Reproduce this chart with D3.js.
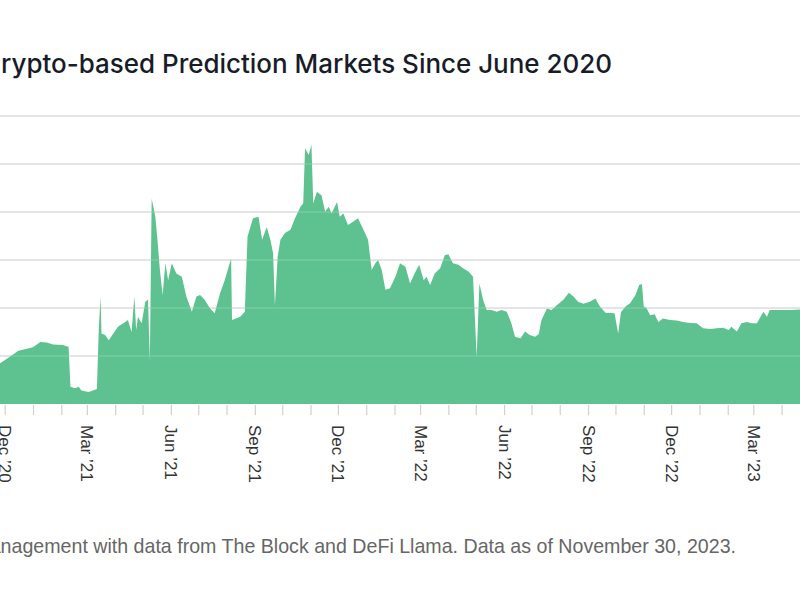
<!DOCTYPE html>
<html><head><meta charset="utf-8">
<script src="https://cdn.jsdelivr.net/npm/d3@7"></script>
<style>body{margin:0;background:#fff}svg{display:block}</style>
</head><body>
<svg id="chart" width="800" height="600"></svg>
<script>
const titleText = "Crypto-based Prediction Markets Since June 2020";
const sourceText = "Management with data from The Block and DeFi Llama. Data as of November 30, 2023.";

const dates = [
"2020-11-10","2020-11-26","2020-12-07","2020-12-16","2021-01-01","2021-01-09","2021-01-16","2021-01-23","2021-02-03","2021-02-09",
"2021-02-11","2021-02-16","2021-02-20","2021-02-23","2021-03-03","2021-03-12","2021-03-14","2021-03-16","2021-03-17","2021-03-21",
"2021-03-25","2021-03-30","2021-04-04","2021-04-10","2021-04-15","2021-04-19","2021-04-22","2021-04-24","2021-04-26","2021-04-30",
"2021-05-04","2021-05-07","2021-05-09","2021-05-11","2021-05-15","2021-05-17","2021-05-20","2021-05-23","2021-05-26","2021-05-29",
"2021-06-02","2021-06-07","2021-06-13","2021-06-18","2021-06-24","2021-06-29","2021-07-03","2021-07-08","2021-07-14","2021-07-19",
"2021-07-25","2021-07-30","2021-08-06","2021-08-07","2021-08-16","2021-08-21","2021-08-24","2021-08-30","2021-09-05","2021-09-09",
"2021-09-14","2021-09-18","2021-09-21","2021-09-23","2021-09-26","2021-09-29","2021-10-04","2021-10-10","2021-10-15","2021-10-21",
"2021-10-24","2021-10-26","2021-10-30","2021-11-02","2021-11-04","2021-11-08","2021-11-13","2021-11-17","2021-11-21","2021-11-24",
"2021-11-30","2021-12-03","2021-12-07","2021-12-12","2021-12-18","2021-12-23","2021-12-29","2022-01-03","2022-01-07","2022-01-11",
"2022-01-14","2022-01-18","2022-01-22","2022-01-27","2022-02-02","2022-02-07","2022-02-13","2022-02-18","2022-02-23","2022-02-28",
"2022-03-05","2022-03-08","2022-03-12","2022-03-17","2022-03-23","2022-03-28","2022-04-01","2022-04-06","2022-04-12","2022-04-17",
"2022-04-23","2022-04-28","2022-05-02","2022-05-05","2022-05-09","2022-05-13","2022-05-18","2022-05-24","2022-05-29","2022-06-04",
"2022-06-09","2022-06-13","2022-06-19","2022-06-24","2022-06-29","2022-07-05","2022-07-09","2022-07-12","2022-07-18","2022-07-23",
"2022-07-29","2022-08-05","2022-08-11","2022-08-16","2022-08-21","2022-08-27","2022-09-03","2022-09-09","2022-09-14","2022-09-20",
"2022-09-30","2022-10-04","2022-10-07","2022-10-12","2022-10-17","2022-10-23","2022-10-27","2022-10-30","2022-11-01","2022-11-04",
"2022-11-08","2022-11-13","2022-11-17","2022-11-22","2022-11-30","2022-12-07","2022-12-14","2022-12-22","2022-12-29","2023-01-05",
"2023-01-13","2023-01-20","2023-01-27","2023-02-02","2023-02-05","2023-02-11","2023-02-16","2023-02-22","2023-02-27","2023-03-05",
"2023-03-12","2023-03-16","2023-03-19","2023-03-27","2023-04-03","2023-04-11","2023-04-21","2023-05-10"
];
const values = [
7.8,8.5,9.9,11.1,11.8,12.9,12.8,12.4,12.3,11.9,
3.6,3.3,3.6,2.8,2.5,3.1,15.4,22.4,14.7,14.4,
13.3,14.7,16.1,16.8,17.5,15.0,22.4,15.4,18.2,16.8,
21.3,21.7,9.0,42.8,39.0,34.9,27.9,22.7,29.3,25.8,
29.3,27.2,26.5,22.4,19.2,22.4,22.7,21.7,19.9,18.9,
23.1,25.8,30.3,17.5,18.2,19.2,34.9,38.7,39.0,34.2,
36.9,34.2,31.4,20.5,30.7,34.2,35.6,36.3,38.7,41.1,
41.8,53.3,51.9,54.0,41.8,44.2,43.5,40.1,41.1,39.7,
42.1,39.0,39.7,37.3,38.0,38.7,36.3,34.2,27.9,29.3,
30.0,27.9,23.8,24.1,26.5,29.3,28.6,25.1,27.2,29.0,
25.8,26.5,24.8,27.2,28.3,31.0,31.2,29.3,29.0,28.3,
27.6,26.5,9.9,25.1,21.7,19.6,19.6,19.2,19.6,19.2,
16.8,14.0,13.7,15.1,14.4,14.0,14.6,17.5,19.9,19.6,
20.6,21.7,23.2,22.4,21.3,20.9,21.3,22.0,20.3,19.0,
18.9,14.7,19.1,20.3,21.0,22.7,24.8,25.0,20.3,20.0,
18.5,18.7,17.1,17.8,17.5,17.4,17.1,16.9,16.8,15.8,
15.6,15.8,15.9,15.4,16.1,15.1,16.8,17.1,16.8,16.8,
19.2,18.2,19.6,19.6,19.6,19.6,19.7,19.5
];
const yTicks = [0,10,20,30,40,50,60];

const parse = d3.timeParse("%Y-%m-%d");
const data = dates.map((d,i)=>({date:parse(d), value:values[i]}));

const svg = d3.select("#chart");
const x = d3.scaleTime()
  .domain([new Date(2020,11,1), new Date(2023,2,1)])
  .range([4.7, 753.3]);
const y = d3.scaleLinear().domain([0,60]).range([404,116]);

// gridlines (behind)
const gridG = svg.append("g");
gridG.selectAll("line").data(yTicks.slice(1)).join("line")
  .attr("x1",0).attr("x2",800)
  .attr("y1",d=>y(d)).attr("y2",d=>y(d))
  .attr("stroke","#e2e2e2").attr("stroke-width",2);

// area
const area = d3.area().x(d=>x(d.date)).y0(y(0)).y1(d=>y(d.value));
svg.append("path").datum(data).attr("d",area).attr("fill","#5dc290");

// faint gridline overlay on the area
svg.append("g").selectAll("line").data(yTicks.slice(1)).join("line")
  .attr("x1",0).attr("x2",800)
  .attr("y1",d=>y(d)).attr("y2",d=>y(d))
  .attr("stroke","#ffffff").attr("stroke-opacity",0.12).attr("stroke-width",2);

// x axis
const tickVals = d3.timeMonth.range(new Date(2020,5,1), new Date(2023,11,1));
const fmt = d3.timeFormat("%b \u2019%y");
const xAxis = d3.axisBottom(x).tickValues(tickVals).tickSize(10)
  .tickFormat(d => (d.getMonth()%3===2) ? fmt(d) : "");
const ax = svg.append("g").attr("transform","translate(0,405)").call(xAxis);
ax.select(".domain").remove();
ax.selectAll(".tick line").attr("stroke","#d0d0d0").attr("stroke-width",1.2);
ax.selectAll(".tick text")
  .attr("transform","rotate(90)")
  .attr("x",20).attr("y",0).attr("dy","0.35em")
  .attr("text-anchor","start")
  .attr("fill","#333")
  .style("font-family","'Liberation Sans', Arial, sans-serif")
  .style("font-size","17px");

// title
const title = svg.append("text")
  .attr("x",612).attr("y",73).attr("text-anchor","end")
  .attr("fill","#171c28")
  .style("font-family","Inter, 'Liberation Sans', sans-serif")
  .style("font-weight","500")
  .style("font-size","25px")
  .text(titleText);
{
  const n = titleText.length;
  const w = title.node().getSubStringLength(1, n-1);
  title.style("font-size", (25*611/w).toFixed(2)+"px");
}

// source note
const src = svg.append("text")
  .attr("x",736).attr("y",553).attr("text-anchor","end")
  .attr("fill","#666")
  .style("font-family","'Liberation Sans', Arial, sans-serif")
  .style("font-size","19px")
  .text(sourceText);
{
  const n = sourceText.length;
  const w = src.node().getSubStringLength(2, n-2);
  src.style("font-size", (19*736/w).toFixed(2)+"px");
}
</script>
</body></html>
